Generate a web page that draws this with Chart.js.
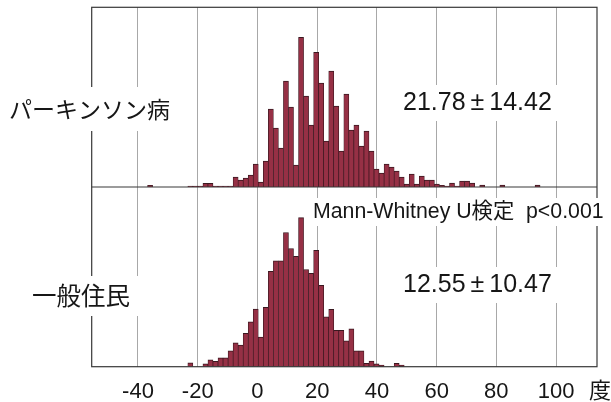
<!DOCTYPE html>
<html>
<head>
<meta charset="utf-8">
<script src="https://cdn.jsdelivr.net/npm/chart.js@4.4.1/dist/chart.umd.min.js"></script>
<style>
  html, body { margin: 0; padding: 0; background: #fff; }
  #wrap { width: 611px; height: 402px; position: relative; }
</style>
</head>
<body>
<div id="wrap"><canvas id="hist"></canvas></div>
<script>
// histogram bins (degrees): first lower edge and width
const firstBinEdge = -36.79
const binWidth = 1.685

// frequencies per bin, same bins for both groups
const parkinsonCounts = [
  0.8, 0, 0, 0, 0, 0, 0, 0, 0.5, 0.5,
  0.5, 1.8, 1.8, 0.5, 0.5, 0.5, 0.5, 5, 3.5, 4.5,
  6, 11.5, 2.5, 13, 39, 29.5, 19.5, 53, 40, 11,
  75, 45.5, 31, 67.5, 52, 23, 58, 40.5, 18, 46.5,
  28.5, 31, 20.5, 28, 18, 9, 7, 11.5, 10, 8,
  5, 1.5, 6.5, 1.5, 5.5, 3.5, 3.5, 1.5, 0.8, 0.5,
  2, 0.5, 3, 3, 2, 0, 1, 0, 0, 0,
  1, 0, 0, 0, 0, 0, 0, 1, 0
]
const residentCounts = [
  0, 0, 0, 0, 0, 0, 0, 0, 2, 0,
  0, 1.5, 3.5, 2.7, 4.4, 4.4, 8, 12, 10.8, 16.7,
  22.5, 28.8, 14.8, 29.7, 47.8, 53, 53, 67.2, 59.2, 55.3,
  74.7, 48.7, 46.8, 58.3, 40.8, 25, 28.7, 18.2, 18.2, 13,
  19, 8, 8, 1.7, 2.8, 1.4, 0.8, 0, 0, 1.7,
  0.8, 0, 0, 0, 0, 0, 0, 0, 0, 0,
  0, 0, 0, 0, 0, 0, 0, 0, 0, 0,
  0, 0, 0, 0, 0, 0, 0, 0, 0
]

const xTickValues = [-40, -20, 0, 20, 40, 60, 80, 100]
const xTickLabels = ['-40', '-20', '0', '20', '40', '60', '80', '100']

const groupNames = ['パーキンソン病', '一般住民']
const groupStats = ['21.78\u2009±\u200914.42', '12.55\u2009±\u200910.47']
const testNote = 'Mann-Whitney U検定  p<0.001'
const unitLabel = '度'

const binCenters = parkinsonCounts.map((_, i) => firstBinEdge + (i + 0.5) * binWidth)

const barFill = '#963045'
const barEdge = '#3a1820'
const latin = "'Liberation Sans', 'Noto Sans CJK JP', sans-serif"
const cjk = "'Noto Sans CJK JP', sans-serif"

// text placed over the panels; each sits on a white patch
const notes = [
  { text: groupNames[0], x: 9, y: 109, size: 23, family: cjk, padX: 10, padY: 22 },
  { text: groupNames[1], x: 32, y: 296, size: 24.5, family: cjk, padX: 10, padY: 20 },
  { text: groupStats[0], x: 403, y: 103, size: 25, family: latin, padX: 8, padY: 18 },
  { text: groupStats[1], x: 403, y: 285, size: 25, family: latin, padX: 8, padY: 18 },
  { text: testNote, x: 313, y: 212, size: 21.3, family: latin, padX: 8, padY: 14 },
  { text: unitLabel, x: 589, y: 390, size: 22, family: cjk, padX: 0, padY: 0 }
]

const panelNotes = {
  id: 'panelNotes',
  afterDraw(chart) {
    const { ctx, chartArea: a } = chart
    const mid = chart.scales.yTop.bottom
    ctx.save()
    ctx.strokeStyle = '#383838'
    ctx.lineWidth = 1.2
    ctx.strokeRect(a.left, a.top, a.right - a.left, a.bottom - a.top)
    ctx.beginPath()
    ctx.moveTo(a.left, mid)
    ctx.lineTo(a.right, mid)
    ctx.stroke()

    ctx.textBaseline = 'middle'
    ctx.textAlign = 'left'
    notes.forEach((n) => {
      ctx.font = n.size + 'px ' + n.family
      let w = ctx.measureText(n.text).width
      if (n.padX || n.padY) {
        ctx.fillStyle = '#fff'
        ctx.fillRect(n.x - n.padX, n.y - n.padY, w + 2 * n.padX, 2 * n.padY)
      }
      ctx.fillStyle = '#161616'
      ctx.fillText(n.text, n.x, n.y)
    })
    ctx.restore()
  }
}

function toPoints(counts) {
  return counts.map((c, i) => ({ x: binCenters[i], y: c }))
}

let barStyle = {
  backgroundColor: barFill,
  borderColor: barEdge,
  borderWidth: { top: 1, left: 0.7, right: 0.7, bottom: 0 },
  borderSkipped: false,
  categoryPercentage: 1.0,
  barPercentage: 1.0
}

let config = {
  type: 'bar',
  data: {
    datasets: [
      Object.assign({ label: groupNames[0], data: toPoints(parkinsonCounts), yAxisID: 'yTop' }, barStyle),
      Object.assign({ label: groupNames[1], data: toPoints(residentCounts), yAxisID: 'yBottom' }, barStyle)
    ]
  },
  options: {
    responsive: true,
    maintainAspectRatio: false,
    animation: false,
    devicePixelRatio: 1,
    grouped: false,
    layout: { padding: { left: 91.7, right: 14, top: 7.3, bottom: 0 } },
    plugins: {
      legend: { display: false },
      tooltip: { enabled: false }
    },
    scales: {
      x: {
        type: 'linear',
        min: -55.5,
        max: 113.7,
        offset: false,
        afterBuildTicks: (axis) => {
          axis.ticks = xTickValues.map((v) => ({ value: v }))
        },
        afterFit: (axis) => { axis.height = 35.3 },
        grid: { color: '#a8a8a8', lineWidth: 1, drawTicks: false, offset: false },
        border: { display: false },
        ticks: {
          padding: 12,
          color: '#161616',
          font: { family: latin, size: 22 },
          callback: (v) => xTickLabels[xTickValues.indexOf(v)]
        }
      },
      // stacked layout places the later key higher, so the lower panel comes first
      yBottom: {
        type: 'linear',
        position: 'left',
        stack: 'panels',
        stackWeight: 1,
        min: 0,
        max: 90,
        grid: { display: false, drawTicks: false },
        border: { display: false },
        ticks: { display: false },
        afterFit: (s) => { s.width = 0 }
      },
      yTop: {
        type: 'linear',
        position: 'left',
        stack: 'panels',
        stackWeight: 1,
        min: 0,
        max: 90,
        grid: { display: false, drawTicks: false },
        border: { display: false },
        ticks: { display: false },
        afterFit: (s) => { s.width = 0 }
      }
    }
  },
  plugins: [panelNotes]
}

let mychart = new Chart(document.getElementById('hist'), config)
</script>
</body>
</html>
